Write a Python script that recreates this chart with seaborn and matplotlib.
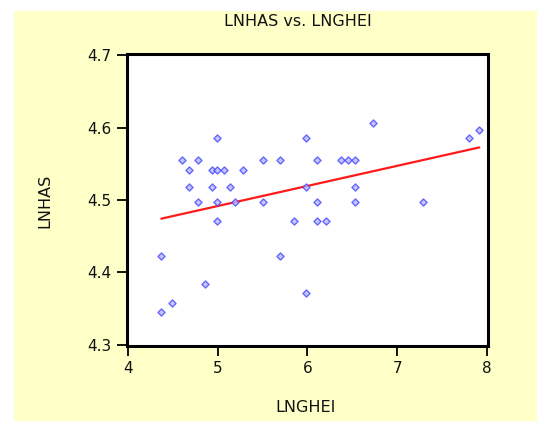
import matplotlib
matplotlib.use("Agg")
import matplotlib.pyplot as plt
from matplotlib.patches import Rectangle
import numpy as np
import pandas as pd
import seaborn as sns

# Observations: log of GHE (x) and log of HAS (y)
lnghei = [4.368, 4.368, 4.488, 4.603, 4.778, 4.681, 4.681, 4.778, 4.859, 4.934,
          4.993, 5.071, 4.934, 4.993, 4.993, 4.993, 5.132, 5.187, 5.283, 5.500,
          5.500, 5.696, 5.696, 5.849, 5.987, 5.987, 5.987, 6.106, 6.106, 6.106,
          6.203, 6.374, 6.455, 6.534, 6.534, 6.534, 6.731, 7.292, 7.799, 7.918]
lnhas = [4.423, 4.345, 4.358, 4.555, 4.555, 4.541, 4.518, 4.497, 4.384, 4.541,
         4.541, 4.541, 4.518, 4.585, 4.497, 4.471, 4.518, 4.497, 4.541, 4.555,
         4.497, 4.555, 4.423, 4.471, 4.585, 4.518, 4.372, 4.555, 4.497, 4.471,
         4.471, 4.555, 4.555, 4.555, 4.518, 4.497, 4.606, 4.497, 4.586, 4.597]

x_ticks = [4, 5, 6, 7, 8]
y_ticks = [4.3, 4.4, 4.5, 4.6, 4.7]

df = pd.DataFrame({"LNGHEI": lnghei, "LNHAS": lnhas})

sns.set_theme(style="white")
plt.rcParams["font.family"] = ["DejaVu Sans"]

W, H = 537, 421
fig = plt.figure(figsize=(W / 100, H / 100), dpi=100)
fig.patch.set_facecolor("white")

# pale yellow panel behind the chart
fig.patches.append(Rectangle((14 / W, 0), (W - 14) / W, (H - 11) / H,
                             transform=fig.transFigure, facecolor="#FFFFC8",
                             edgecolor="none", zorder=-10))

ax = fig.add_axes([127 / W, 1 - 346 / H, (488 - 127) / W, (346 - 54) / H])
ax.set_facecolor("white")
ax.set_zorder(1)

sns.regplot(data=df, x="LNGHEI", y="LNHAS", ax=ax, ci=None, truncate=True,
            marker="D",
            scatter_kws=dict(s=13, facecolors="#b8b8ff", edgecolors="#4848ff",
                             linewidths=1.0, zorder=3),
            line_kws=dict(color="#ff1a1a", linewidth=1.6, zorder=2))

ax.set_xlim(3.985, 8.015)
ax.set_ylim(4.2986, 4.7014)
ax.set_xticks(x_ticks)
ax.set_xticklabels([str(v) for v in x_ticks])
ax.set_yticks(y_ticks)
ax.set_yticklabels([f"{v:.1f}" for v in y_ticks])

for s in ax.spines.values():
    s.set_visible(True)
    s.set_color("black")
    s.set_linewidth(2.2)

ax.tick_params(axis="both", which="major", direction="out", length=7, width=1.3,
               color="black", labelsize=11, labelcolor="#111111",
               left=True, bottom=True, pad=4)

ax.set_xlabel("")
ax.set_ylabel("")

fig.text(298 / W, 1 - 21 / H, "LNHAS vs. LNGHEI", ha="center", va="center",
         fontsize=11.5, color="#111111")
fig.text(306 / W, 1 - 408 / H, "LNGHEI", ha="center", va="center",
         fontsize=11.5, color="#111111")
fig.text(45 / W, 1 - 201 / H, "LNHAS", ha="center", va="center",
         rotation=90, fontsize=11.5, color="#111111")

fig.savefig("out.png", dpi=100, facecolor=fig.get_facecolor())
